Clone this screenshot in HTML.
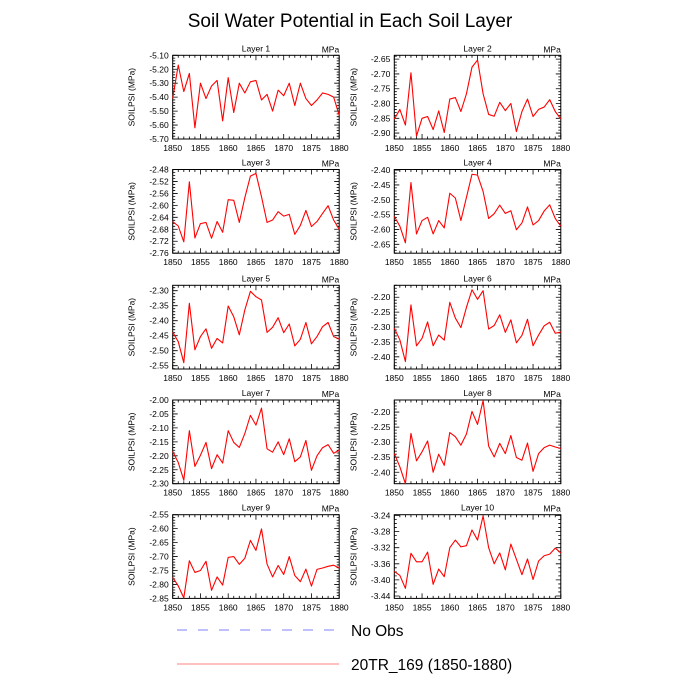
<!DOCTYPE html>
<html><head><meta charset="utf-8"><style>
html,body{margin:0;padding:0;background:#fff;width:700px;height:700px;overflow:hidden}
svg{display:block;font-family:"Liberation Sans",sans-serif}
</style></head><body>
<svg id="chart" width="700" height="700" viewBox="0 0 700 700">
<text x="350" y="27" font-size="19" text-anchor="middle">Soil Water Potential in Each Soil Layer</text>
<g id="panels"></g>
<g>
<line x1="177" y1="630" x2="337" y2="630" stroke="#8080ff" stroke-width="1" stroke-dasharray="10,11"/>
<text x="351" y="636" font-size="15.5">No Obs</text>
<line x1="177" y1="664" x2="339" y2="664" stroke="#ff8080" stroke-width="1"/>
<text x="351" y="670" font-size="15.5">20TR_169 (1850-1880)</text>
</g>
</svg>
<script>
const years = [];
for (let y = 1850; y <= 1880; y++) years.push(y);
const xTickLabels = [1850,1855,1860,1865,1870,1875,1880];
const layer1 = [-5.41,-5.17,-5.36,-5.23,-5.62,-5.30,-5.41,-5.32,-5.28,-5.57,-5.26,-5.51,-5.30,-5.37,-5.29,-5.28,-5.42,-5.38,-5.50,-5.35,-5.39,-5.30,-5.46,-5.30,-5.41,-5.46,-5.42,-5.37,-5.38,-5.40,-5.53];
const layer2 = [-2.853,-2.82,-2.873,-2.696,-2.91,-2.85,-2.844,-2.888,-2.825,-2.898,-2.785,-2.78,-2.827,-2.767,-2.677,-2.653,-2.767,-2.837,-2.843,-2.796,-2.824,-2.80,-2.895,-2.827,-2.785,-2.844,-2.82,-2.812,-2.787,-2.827,-2.852];
const layer3 = [-2.654,-2.669,-2.722,-2.521,-2.709,-2.661,-2.657,-2.71,-2.654,-2.69,-2.581,-2.583,-2.657,-2.574,-2.502,-2.493,-2.571,-2.657,-2.649,-2.621,-2.636,-2.63,-2.697,-2.667,-2.617,-2.671,-2.654,-2.627,-2.601,-2.649,-2.68];
const layer4 = [-2.556,-2.589,-2.645,-2.442,-2.615,-2.57,-2.559,-2.615,-2.57,-2.595,-2.478,-2.494,-2.57,-2.492,-2.414,-2.417,-2.472,-2.563,-2.547,-2.518,-2.546,-2.537,-2.601,-2.578,-2.524,-2.585,-2.57,-2.538,-2.517,-2.563,-2.589];
const layer5 = [-2.438,-2.47,-2.54,-2.342,-2.497,-2.453,-2.427,-2.492,-2.459,-2.474,-2.351,-2.387,-2.447,-2.364,-2.302,-2.32,-2.331,-2.439,-2.422,-2.39,-2.44,-2.411,-2.484,-2.462,-2.406,-2.477,-2.453,-2.42,-2.406,-2.453,-2.461];
const layer6 = [-2.304,-2.343,-2.416,-2.226,-2.363,-2.338,-2.283,-2.363,-2.327,-2.344,-2.217,-2.27,-2.302,-2.234,-2.175,-2.207,-2.178,-2.307,-2.295,-2.259,-2.318,-2.276,-2.353,-2.328,-2.274,-2.363,-2.327,-2.296,-2.284,-2.321,-2.317];
const layer7 = [-2.184,-2.224,-2.288,-2.11,-2.238,-2.198,-2.152,-2.246,-2.196,-2.226,-2.11,-2.152,-2.17,-2.12,-2.055,-2.09,-2.029,-2.175,-2.187,-2.15,-2.196,-2.139,-2.221,-2.204,-2.145,-2.252,-2.20,-2.171,-2.16,-2.191,-2.18];
const layer8 = [-2.338,-2.382,-2.438,-2.271,-2.362,-2.332,-2.296,-2.40,-2.34,-2.377,-2.268,-2.282,-2.31,-2.273,-2.198,-2.241,-2.162,-2.313,-2.349,-2.304,-2.338,-2.278,-2.351,-2.36,-2.303,-2.397,-2.338,-2.318,-2.31,-2.316,-2.321];
const layer9 = [-2.775,-2.805,-2.848,-2.715,-2.757,-2.75,-2.717,-2.821,-2.773,-2.802,-2.703,-2.70,-2.728,-2.706,-2.642,-2.678,-2.601,-2.727,-2.773,-2.732,-2.764,-2.70,-2.768,-2.79,-2.745,-2.806,-2.746,-2.741,-2.735,-2.731,-2.741];
const layer10 = [-3.379,-3.389,-3.421,-3.334,-3.355,-3.355,-3.331,-3.411,-3.373,-3.392,-3.32,-3.301,-3.318,-3.315,-3.276,-3.301,-3.241,-3.32,-3.36,-3.333,-3.375,-3.311,-3.349,-3.387,-3.348,-3.399,-3.353,-3.34,-3.336,-3.321,-3.333];
const yTicks1 = [-5.10,-5.20,-5.30,-5.40,-5.50,-5.60,-5.70];
const yTicks2 = [-2.65,-2.70,-2.75,-2.80,-2.85,-2.90];
const yTicks3 = [-2.48,-2.52,-2.56,-2.60,-2.64,-2.68,-2.72,-2.76];
const yTicks4 = [-2.40,-2.45,-2.50,-2.55,-2.60,-2.65];
const yTicks5 = [-2.30,-2.35,-2.40,-2.45,-2.50,-2.55];
const yTicks6 = [-2.20,-2.25,-2.30,-2.35,-2.40];
const yTicks7 = [-2.00,-2.05,-2.10,-2.15,-2.20,-2.25,-2.30];
const yTicks8 = [-2.20,-2.25,-2.30,-2.35,-2.40];
const yTicks9 = [-2.55,-2.60,-2.65,-2.70,-2.75,-2.80,-2.85];
const yTicks10 = [-3.24,-3.28,-3.32,-3.36,-3.40,-3.44];

const panels = [
 {d:layer1,t:yTicks1,lo:-5.70,hi:-5.10,step:0.1,minor:5},
 {d:layer2,t:yTicks2,lo:-2.92,hi:-2.637,step:0.05,minor:5},
 {d:layer3,t:yTicks3,lo:-2.76,hi:-2.48,step:0.04,minor:4},
 {d:layer4,t:yTicks4,lo:-2.68,hi:-2.398,step:0.05,minor:5},
 {d:layer5,t:yTicks5,lo:-2.561,hi:-2.282,step:0.05,minor:5},
 {d:layer6,t:yTicks6,lo:-2.441,hi:-2.160,step:0.05,minor:5},
 {d:layer7,t:yTicks7,lo:-2.30,hi:-2.00,step:0.05,minor:5},
 {d:layer8,t:yTicks8,lo:-2.438,hi:-2.160,step:0.05,minor:5},
 {d:layer9,t:yTicks9,lo:-2.85,hi:-2.55,step:0.05,minor:5},
 {d:layer10,t:yTicks10,lo:-3.446,hi:-3.238,step:0.04,minor:4}
];
const NS = "http://www.w3.org/2000/svg";
const root = document.getElementById('panels');
function mk(tag, attrs, parent){const e=document.createElementNS(NS,tag);for(const k in attrs)e.setAttribute(k,attrs[k]);parent.appendChild(e);return e;}
const lefts=[172.7,394.3], tops=[55.3,169.5,285.3,400,514.7], W=166.5, H=83.7;
panels.forEach((p,i)=>{
 const L=lefts[i%2], T=tops[Math.floor(i/2)];
 const g=mk('g',{},root);
 
 
 const xs=v=>L+(v-1850)/30*W;
 const ys=v=>T+(p.hi-v)/(p.hi-p.lo)*H;
 let tk='';
 for(let y=1850;y<=1880;y++){const x=xs(y);const len=(y%5===0)?5:2.5;
   tk+=`M${x},${T+H}v${-len}M${x},${T}v${len}`;}
 const ms=p.step/p.minor;
 const start=Math.ceil((p.lo-1e-9)/ms);
 for(let k=start;k*ms<=p.hi+1e-9;k++){const v=k*ms;const y=ys(v);
   const isMaj=p.t.some(t=>Math.abs(t-v)<1e-6);const len=isMaj?5:2.5;
   tk+=`M${L},${y}h${len}M${L+W},${y}h${-len}`;}
 const ticks=mk('path',{d:tk,stroke:'#000','stroke-width':0.8,fill:'none'},g);
 
 
 const fr=mk('rect',{x:L,y:T,width:W,height:H,fill:'none',stroke:'#000','stroke-width':1},g);
 
 
 xTickLabels.forEach(v=>{const t=mk('text',{x:xs(v),y:T+H+12,'font-size':8.5,'text-anchor':'middle'},g);t.textContent=v;
   
   });
 p.t.forEach(v=>{const t=mk('text',{x:L-4,y:ys(v)+3,'font-size':8.5,'text-anchor':'end'},g);t.textContent=v.toFixed(2);
   
   });
 const yl=mk('text',{x:0,y:0,'font-size':8.5,'text-anchor':'middle',transform:`translate(${L-38},${T+H/2}) rotate(-90)`},g);
 yl.textContent='SOILPSI  (MPa)';
 
 
 const tt=mk('text',{x:L+W/2,y:T-4,'font-size':8.5,'text-anchor':'middle'},g);tt.textContent='Layer '+(i+1);
 
 
 const mu=mk('text',{x:L+W,y:T-3,'font-size':8.5,'text-anchor':'end'},g);mu.textContent='MPa';
 
 
 const pts=p.d.map((v,j)=>xs(years[j]).toFixed(2)+','+ys(v).toFixed(2)).join(' ');
 const ln=mk('polyline',{points:pts,fill:'none',stroke:'#ff0000','stroke-width':1.1,'stroke-linejoin':'round'},g);
 
 
});
</script>
</body></html>
